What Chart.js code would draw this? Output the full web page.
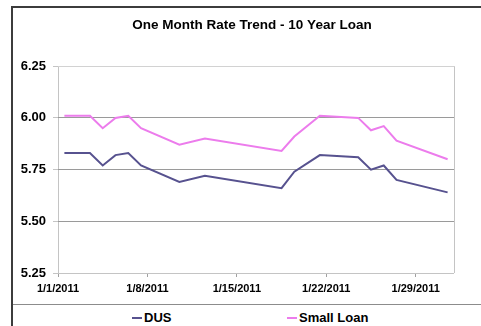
<!DOCTYPE html>
<html>
<head>
<meta charset="utf-8">
<script src="https://cdn.jsdelivr.net/npm/chart.js@4/dist/chart.umd.min.js"></script>
<style>
    html, body { margin: 0; padding: 0; background: #fff; overflow: hidden; }
    body { width: 481px; height: 326px; position: relative; font-family: Arial, "Liberation Sans", sans-serif; }
    .frame { position: absolute; left: 11px; top: 6px; width: 480px; height: 330px; border-left: 2px solid #3c3c3c; border-top: 2px solid #3c3c3c; }
    .legend-box { position: absolute; left: 13px; top: 304px; width: 480px; height: 40px; border-top: 1px solid #8c8c8c; }
    .legend-item { position: absolute; top: 311px; height: 14px; line-height: 14px; font-weight: bold; font-size: 13px; color: #000; white-space: nowrap; }
    .legend-item i { display: inline-block; width: 10px; height: 2px; vertical-align: middle; margin-right: 2px; position: relative; top: -1px; }
    #chartWrap { position: absolute; left: 14px; top: 9px; width: 476px; height: 296px; }
</style>
</head>
<body>
<div class="frame"></div>
<div class="legend-box"></div>
<div id="legend"></div>
<div id="chartWrap"><canvas id="rateChart"></canvas></div>
<script>
// 数据 (1月 2011)
const dates = ['1/1/2011', '1/3/2011', '1/4/2011', '1/5/2011', '1/6/2011', '1/7/2011', '1/10/2011', '1/12/2011',
    '1/18/2011', '1/19/2011', '1/21/2011', '1/24/2011', '1/25/2011', '1/26/2011', '1/27/2011', '1/31/2011'];
const dusRates = [5.83, 5.83, 5.77, 5.82, 5.83, 5.77, 5.69, 5.72, 5.66, 5.74, 5.82, 5.81, 5.75, 5.77, 5.70, 5.64];
const smallLoanRates = [6.01, 6.01, 5.95, 6.00, 6.01, 5.95, 5.87, 5.90, 5.84, 5.91, 6.01, 6.00, 5.94, 5.96, 5.89, 5.80];
const xTickLabels = ['1/1/2011', '1/8/2011', '1/15/2011', '1/22/2011', '1/29/2011'];
const yTicks = [5.25, 5.50, 5.75, 6.00, 6.25];
const seriesNames = ['DUS', 'Small Loan'];
const seriesColors = ['#57528f', '#ec7cec'];

window.RateChartModule = {
    chart: null,

    init() {
        this.renderLegend();
        this.initChart();
    },

    // 日期 -> 当月第几天 (点位于当天中间)
    toX(d) {
        const day = parseInt(d.split('/')[1], 10);
        return day - 1 + 0.5;
    },

    renderLegend() {
        const el = document.getElementById('legend');
        const lefts = [132, 287];
        el.innerHTML = seriesNames.map((name, i) =>
            `<div class="legend-item" style="left:${lefts[i]}px"><i style="background:${seriesColors[i]}"></i>${name}</div>`
        ).join('');
    },

    initChart() {
        const ctx = document.getElementById('rateChart');
        const pts = vals => vals.map((v, i) => ({ x: this.toX(dates[i]), y: v }));
        const lastX = 31;

        this.chart = new Chart(ctx, {
            type: 'line',
            data: {
                datasets: [
                    { label: seriesNames[0], data: pts(dusRates), borderColor: seriesColors[0], borderWidth: 2, pointRadius: 0, tension: 0, fill: false },
                    { label: seriesNames[1], data: pts(smallLoanRates), borderColor: seriesColors[1], borderWidth: 2, pointRadius: 0, tension: 0, fill: false }
                ]
            },
            options: {
                responsive: true,
                maintainAspectRatio: false,
                animation: false,
                layout: { padding: 0 },
                plugins: {
                    legend: { display: false },
                    tooltip: { enabled: false },
                    title: {
                        display: true,
                        text: 'One Month Rate Trend - 10 Year Loan',
                        color: '#000',
                        font: { family: 'Arial, "Liberation Sans"', size: 13.5, weight: 'bold' },
                        padding: { top: 8, bottom: 33 }
                    }
                },
                scales: {
                    x: {
                        type: 'linear',
                        min: 0,
                        max: lastX,
                        afterFit: s => { s.height = 32; },
                        border: { display: false },
                        grid: {
                            drawOnChartArea: true,
                            tickLength: 4,
                            lineWidth: 1,
                            color: c => (c.tick && (c.tick.value === 0 || c.tick.value === lastX)) ? '#c4c4c4' : 'rgba(0,0,0,0)',
                            tickColor: c => (c.tick && c.tick.value === lastX) ? 'rgba(0,0,0,0)' : '#a0a0a0'
                        },
                        ticks: {
                            stepSize: 7,
                            autoSkip: false,
                            maxRotation: 0,
                            padding: 5,
                            color: '#000',
                            font: { family: 'Arial, "Liberation Sans"', size: 11, weight: 'bold' },
                            callback: v => (v % 7 === 0 && v / 7 < xTickLabels.length) ? xTickLabels[v / 7] : ''
                        }
                    },
                    y: {
                        min: yTicks[0],
                        max: yTicks[yTicks.length - 1],
                        afterFit: s => { s.width = 44; },
                        afterBuildTicks: s => { s.ticks = yTicks.map(v => ({ value: v })); },
                        border: { display: false },
                        grid: {
                            tickLength: 5,
                            lineWidth: 1,
                            color: c => {
                                if (!c.tick) return '#9a9a9a';
                                if (c.tick.value === 6.25) return '#d2d2d2';
                                if (c.tick.value === 5.25) return '#c4c4c4';
                                return '#9a9a9a';
                            },
                            tickColor: '#c4c4c4'
                        },
                        ticks: {
                            padding: 7,
                            color: '#000',
                            font: { family: 'Arial, "Liberation Sans"', size: 13, weight: 'bold' },
                            callback: v => Number(v).toFixed(2)
                        }
                    },
                    // 右侧空白 (占位)
                    yPad: {
                        position: 'right',
                        min: yTicks[0],
                        max: yTicks[yTicks.length - 1],
                        afterFit: s => { s.width = 36; },
                        border: { display: false },
                        grid: { display: false },
                        ticks: { display: false }
                    }
                }
            }
        });
    }
};

RateChartModule.init();
</script>
</body>
</html>
